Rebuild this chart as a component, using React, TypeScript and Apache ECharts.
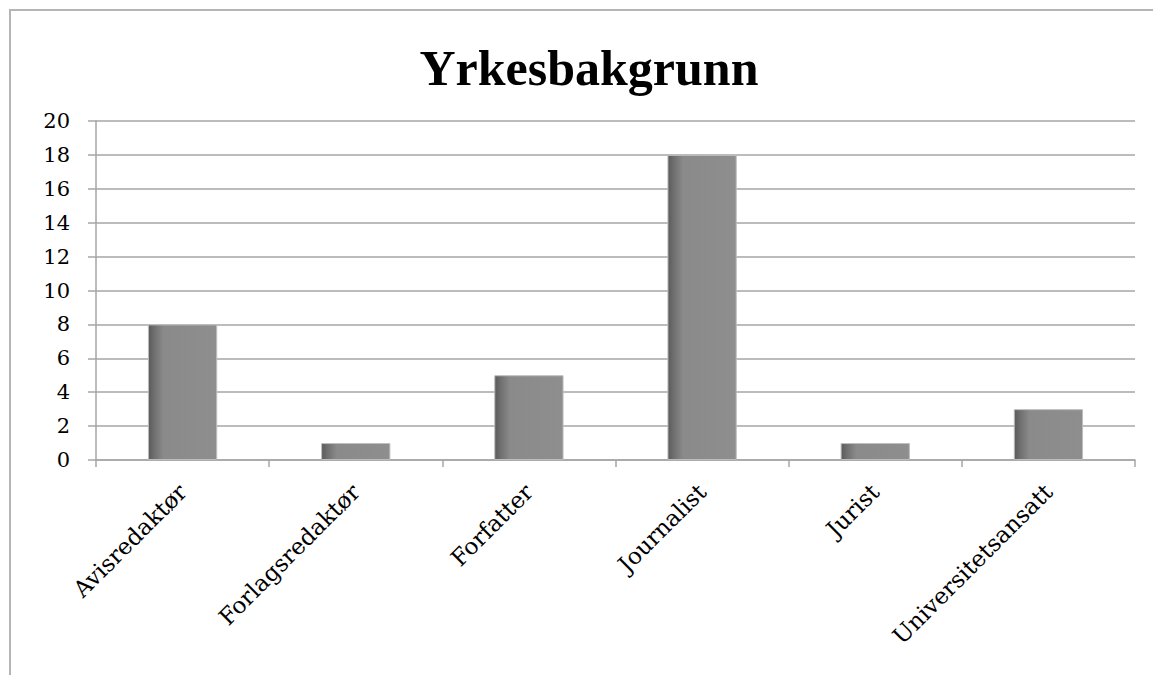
import React, { useEffect, useRef } from "react";
import * as echarts from "echarts";

const title = "Yrkesbakgrunn";
const categories = ["Avisredaktør", "Forlagsredaktør", "Forfatter", "Journalist", "Jurist", "Universitetsansatt"];
const values = [8, 1, 5, 18, 1, 3];
const yMin = 0;
const yMax = 20;
const yStep = 2;

export default function App() {
  const ref = useRef<HTMLDivElement>(null);
  useEffect(() => {
    if (!ref.current) return;
    const chart = echarts.init(ref.current, null, { renderer: "svg" });
    const font = "'DejaVu Serif', serif";
    chart.setOption({
      animation: false,
      backgroundColor: "#ffffff",
      title: {
        text: title,
        left: 584,
        textAlign: "center",
        top: 38,
        textStyle: { fontFamily: "'Liberation Serif', serif", fontSize: 50, fontWeight: "bold", color: "#000" },
      },
      graphic: [
        {
          type: "rect",
          shape: { x: 10, y: 10, width: 1200, height: 700 },
          style: { fill: "none", stroke: "#b5b5b5", lineWidth: 2 },
          silent: true,
        },
      ],
      grid: { left: 96, right: 18, top: 121, bottom: 215 },
      xAxis: {
        type: "category",
        data: categories,
        axisLine: { lineStyle: { color: "#a6a6a6", width: 1.5 } },
        axisTick: { show: true, length: 7, interval: 0, lineStyle: { color: "#a6a6a6", width: 1.5 } },
        axisLabel: {
          interval: 0,
          rotate: 45,
          margin: 28,
          fontFamily: font,
          fontSize: 23,
          color: "#000",
        },
      },
      yAxis: {
        type: "value",
        min: yMin,
        max: yMax,
        interval: yStep,
        axisLine: { show: true, lineStyle: { color: "#a6a6a6", width: 1.5 } },
        axisTick: { show: true, length: 8, lineStyle: { color: "#a6a6a6", width: 1.5 } },
        splitLine: { lineStyle: { color: "#a6a6a6", width: 1.5 } },
        axisLabel: { margin: 26, fontFamily: font, fontSize: 21, color: "#000" },
      },
      series: [
        {
          type: "bar",
          data: values,
          barWidth: "40%",
          itemStyle: {
            color: new echarts.graphic.LinearGradient(0, 0, 1, 0, [
              { offset: 0, color: "#5a5a5a" },
              { offset: 0.08, color: "#6e6e6e" },
              { offset: 0.22, color: "#8a8a8a" },
              { offset: 1, color: "#8e8e8e" },
            ]),
            borderColor: "#bdbdbd",
            borderWidth: 1,
          },
        },
      ],
    });
    return () => chart.dispose();
  }, []);
  return <div ref={ref} style={{ position: "fixed", left: 0, top: 0, width: 1153, height: 675 }} />;
}
